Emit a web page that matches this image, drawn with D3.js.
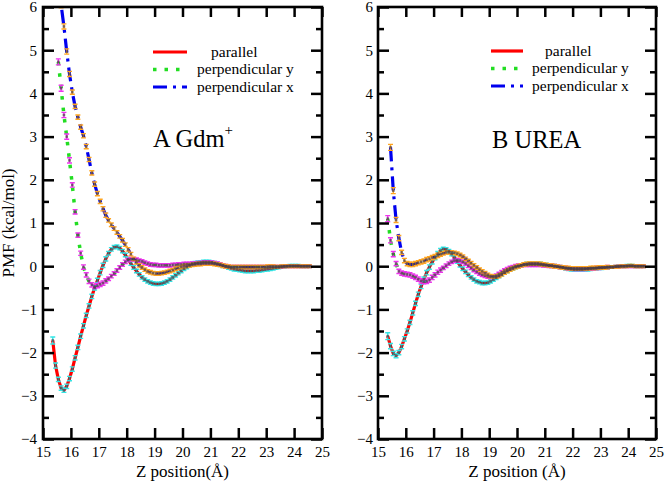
<!DOCTYPE html>
<html><head><meta charset="utf-8">
<script src="https://cdn.jsdelivr.net/npm/d3@7"></script>
<style>body{margin:0;background:#fff}svg{display:block}svg text{font-family:"Liberation Serif","Times New Roman","DejaVu Serif",serif !important;fill:#000}</style>
</head><body>
<script>
// ---------- data ----------
const zGrid = [
15.35,15.45,15.55,15.65,15.75,15.85,15.95,16.05,16.15,16.25,
16.35,16.45,16.55,16.65,16.75,16.85,16.95,17.05,17.15,17.25,
17.35,17.45,17.55,17.65,17.75,17.85,17.95,18.05,18.15,18.25,
18.35,18.45,18.55,18.65,18.75,18.85,18.95,19.05,19.15,19.25,
19.35,19.45,19.55,19.65,19.75,19.85,19.95,20.05,20.15,20.25,
20.35,20.45,20.55,20.65,20.75,20.85,20.95,21.05,21.15,21.25,
21.35,21.45,21.55,21.65,21.75,21.85,21.95,22.05,22.15,22.25,
22.35,22.45,22.55,22.65,22.75,22.85,22.95,23.05,23.15,23.25,
23.35,23.45,23.55,23.65,23.75,23.85,23.95,24.05,24.15,24.25,
24.35,24.45,24.55];
const seriesNames = ["parallel","perpendicular y","perpendicular x"];
const xTicks = [15,16,17,18,19,20,21,22,23,24,25];
const yTicks = [-4,-3,-2,-1,0,1,2,3,4,5,6];
const yMinorTicks = [-3.5,-2.5,-1.5,-0.5,0.5,1.5,2.5,3.5,4.5,5.5];

// Panel A: Gdm+
const gdmParallel = [
-1.72,-2.30,-2.62,-2.82,-2.87,-2.78,-2.60,-2.38,-2.12,-1.88,
-1.62,-1.38,-1.14,-0.92,-0.70,-0.50,-0.33,-0.15,0.02,0.17,
0.30,0.39,0.44,0.45,0.42,0.35,0.26,0.16,0.06,-0.03,
-0.11,-0.19,-0.26,-0.31,-0.35,-0.38,-0.40,-0.41,-0.41,-0.40,
-0.38,-0.35,-0.31,-0.26,-0.21,-0.16,-0.11,-0.06,-0.02,0.02,
0.05,0.07,0.08,0.09,0.10,0.10,0.10,0.09,0.07,0.05,
0.03,0.01,-0.01,-0.03,-0.05,-0.07,-0.08,-0.09,-0.10,-0.11,
-0.11,-0.11,-0.11,-0.10,-0.10,-0.09,-0.08,-0.07,-0.06,-0.05,
-0.04,-0.03,-0.02,-0.01,0.00,0.01,0.01,0.01,0.01,0.00,
0.00,0.00,0.00];
const gdmPerpY = [
null,null,4.73,4.12,3.50,3.00,2.45,1.88,1.26,0.72,
0.30,-0.02,-0.20,-0.35,-0.43,-0.47,-0.45,-0.42,-0.39,-0.34,
-0.29,-0.23,-0.17,-0.10,-0.03,0.04,0.10,0.14,0.16,0.16,
0.15,0.13,0.11,0.08,0.06,0.04,0.03,0.03,0.02,0.02,
0.02,0.02,0.02,0.03,0.03,0.04,0.04,0.05,0.05,0.05,
0.06,0.06,0.07,0.07,0.08,0.08,0.08,0.08,0.07,0.06,
0.04,0.02,0.00,-0.01,-0.02,-0.02,-0.02,-0.02,-0.02,-0.02,
-0.02,-0.02,-0.02,-0.02,-0.02,-0.02,-0.02,-0.02,-0.01,-0.01,
-0.01,-0.01,-0.01,0.00,0.00,0.00,0.00,0.00,0.00,0.00,
0.00,0.00,0.00];
const gdmPerpX = [
null,null,6.60,6.05,5.55,4.97,4.45,4.03,3.70,3.45,
3.22,3.02,2.77,2.47,2.16,1.90,1.68,1.50,1.33,1.18,
1.06,0.96,0.87,0.78,0.69,0.60,0.50,0.39,0.28,0.17,
0.09,0.02,-0.03,-0.08,-0.12,-0.14,-0.16,-0.17,-0.17,-0.16,
-0.15,-0.13,-0.11,-0.09,-0.06,-0.04,-0.02,0.00,0.01,0.02,
0.03,0.04,0.05,0.05,0.06,0.06,0.06,0.06,0.05,0.04,
0.03,0.01,0.00,-0.01,-0.02,-0.02,-0.02,-0.02,-0.02,-0.02,
-0.02,-0.02,-0.02,-0.02,-0.02,-0.02,-0.02,-0.01,-0.01,-0.01,
-0.01,-0.01,0.00,0.00,0.00,0.00,0.00,0.00,0.00,0.00,
0.00,0.00,0.00];
const gdmErrParallel = [
0.08,0.06,0.05,0.05,0.05,0.05,0.05,0.05,0.05,0.05,
0.05,0.05,0.05,0.05,0.05,0.05,0.05,0.05,0.05,0.05,
0.04,0.04,0.04,0.04,0.04,0.04,0.04,0.04,0.04,0.04,
0.04,0.04,0.04,0.04,0.04,0.04,0.04,0.04,0.04,0.04,
0.04,0.04,0.04,0.04,0.04,0.04,0.04,0.04,0.04,0.04,
0.04,0.04,0.04,0.04,0.04,0.04,0.04,0.04,0.04,0.04,
0.04,0.04,0.04,0.04,0.04,0.04,0.04,0.04,0.04,0.04,
0.04,0.04,0.04,0.04,0.04,0.04,0.04,0.04,0.04,0.04,
0.03,0.03,0.03,0.03,0.03,0.03,0.03,0.03,0.03,0.03,
0.03,0.03,0.03];
const gdmErrPerpY = [
null,null,0.07,0.07,0.06,0.06,0.06,0.05,0.05,0.05,
0.05,0.05,0.05,0.05,0.05,0.05,0.05,0.05,0.05,0.05,
0.04,0.04,0.04,0.04,0.04,0.04,0.04,0.04,0.04,0.04,
0.04,0.04,0.04,0.04,0.04,0.04,0.04,0.04,0.04,0.04,
0.04,0.04,0.04,0.04,0.04,0.04,0.04,0.04,0.04,0.04,
0.04,0.04,0.04,0.04,0.04,0.04,0.04,0.04,0.04,0.04,
0.04,0.04,0.04,0.04,0.04,0.04,0.04,0.04,0.04,0.04,
0.04,0.04,0.04,0.04,0.04,0.04,0.04,0.04,0.04,0.04,
0.03,0.03,0.03,0.03,0.03,0.03,0.03,0.03,0.03,0.03,
0.03,0.03,0.03];
const gdmErrPerpX = [
null,null,0.07,0.07,0.06,0.06,0.06,0.05,0.05,0.05,
0.05,0.05,0.05,0.05,0.05,0.05,0.05,0.05,0.05,0.05,
0.04,0.04,0.04,0.04,0.04,0.04,0.04,0.04,0.04,0.04,
0.04,0.04,0.04,0.04,0.04,0.04,0.04,0.04,0.04,0.04,
0.04,0.04,0.04,0.04,0.04,0.04,0.04,0.04,0.04,0.04,
0.04,0.04,0.04,0.04,0.04,0.04,0.04,0.04,0.04,0.04,
0.04,0.04,0.04,0.04,0.04,0.04,0.04,0.04,0.04,0.04,
0.04,0.04,0.04,0.04,0.04,0.04,0.04,0.04,0.04,0.04,
0.03,0.03,0.03,0.03,0.03,0.03,0.03,0.03,0.03,0.03,
0.03,0.03,0.03];

// Panel B: UREA
const ureaParallel = [
-1.62,-1.85,-2.02,-2.07,-2.00,-1.86,-1.68,-1.50,-1.30,-1.08,
-0.86,-0.65,-0.47,-0.30,-0.15,-0.02,0.10,0.20,0.29,0.36,
0.40,0.39,0.35,0.28,0.20,0.11,0.02,-0.06,-0.13,-0.20,
-0.26,-0.31,-0.35,-0.37,-0.39,-0.39,-0.38,-0.35,-0.31,-0.27,
-0.23,-0.19,-0.15,-0.11,-0.08,-0.05,-0.02,0.00,0.02,0.04,
0.05,0.06,0.06,0.06,0.06,0.05,0.04,0.03,0.02,0.01,
0.00,-0.01,-0.02,-0.03,-0.05,-0.06,-0.07,-0.08,-0.08,-0.08,
-0.08,-0.07,-0.07,-0.06,-0.05,-0.05,-0.04,-0.04,-0.03,-0.03,
-0.02,-0.02,-0.01,0.00,0.00,0.00,0.01,0.01,0.01,0.00,
0.00,0.00,0.00];
const ureaPerpY = [
1.10,0.60,0.28,0.06,-0.12,-0.16,-0.18,-0.19,-0.20,-0.23,
-0.26,-0.30,-0.34,-0.36,-0.35,-0.32,-0.26,-0.20,-0.14,-0.09,
-0.04,0.01,0.06,0.10,0.13,0.14,0.13,0.10,0.06,0.01,
-0.04,-0.09,-0.13,-0.17,-0.20,-0.22,-0.24,-0.25,-0.24,-0.22,
-0.18,-0.14,-0.10,-0.07,-0.04,-0.02,0.00,0.01,0.02,0.03,
0.03,0.03,0.03,0.03,0.03,0.03,0.02,0.02,0.01,0.01,
0.00,-0.01,-0.02,-0.03,-0.04,-0.05,-0.05,-0.06,-0.06,-0.06,
-0.06,-0.06,-0.05,-0.05,-0.05,-0.04,-0.04,-0.03,-0.03,-0.02,
-0.02,-0.02,-0.01,-0.01,0.00,0.00,0.00,0.00,0.00,0.00,
0.00,0.00,0.00];
const ureaPerpX = [
null,2.75,1.75,1.07,0.65,0.32,0.13,0.06,0.04,0.04,
0.06,0.08,0.10,0.12,0.15,0.17,0.20,0.22,0.25,0.28,
0.30,0.32,0.32,0.32,0.31,0.29,0.26,0.22,0.17,0.12,
0.07,0.02,-0.03,-0.08,-0.12,-0.16,-0.20,-0.23,-0.24,-0.24,
-0.22,-0.19,-0.15,-0.11,-0.08,-0.05,-0.02,0.00,0.02,0.04,
0.05,0.06,0.06,0.06,0.06,0.05,0.04,0.03,0.02,0.01,
0.00,-0.01,-0.02,-0.03,-0.04,-0.04,-0.05,-0.05,-0.05,-0.05,
-0.05,-0.05,-0.05,-0.04,-0.04,-0.04,-0.03,-0.03,-0.03,-0.02,
-0.02,-0.02,-0.01,-0.01,0.00,0.00,0.00,0.01,0.01,0.00,
0.00,0.00,0.00];
const ureaErrParallel = gdmErrParallel.slice();
const ureaErrPerpY = [
0.07,0.06,0.06,0.05,0.05,0.05,0.05,0.05,0.05,0.05,
0.05,0.05,0.05,0.05,0.05,0.05,0.05,0.05,0.05,0.05,
0.04,0.04,0.04,0.04,0.04,0.04,0.04,0.04,0.04,0.04,
0.04,0.04,0.04,0.04,0.04,0.04,0.04,0.04,0.04,0.04,
0.04,0.04,0.04,0.04,0.04,0.04,0.04,0.04,0.04,0.04,
0.04,0.04,0.04,0.04,0.04,0.04,0.04,0.04,0.04,0.04,
0.04,0.04,0.04,0.04,0.04,0.04,0.04,0.04,0.04,0.04,
0.04,0.04,0.04,0.04,0.04,0.04,0.04,0.04,0.04,0.04,
0.03,0.03,0.03,0.03,0.03,0.03,0.03,0.03,0.03,0.03,
0.03,0.03,0.03];
const ureaErrPerpX = [
null,0.07,0.07,0.06,0.06,0.05,0.05,0.05,0.05,0.05,
0.05,0.05,0.05,0.05,0.05,0.05,0.05,0.05,0.05,0.05,
0.04,0.04,0.04,0.04,0.04,0.04,0.04,0.04,0.04,0.04,
0.04,0.04,0.04,0.04,0.04,0.04,0.04,0.04,0.04,0.04,
0.04,0.04,0.04,0.04,0.04,0.04,0.04,0.04,0.04,0.04,
0.04,0.04,0.04,0.04,0.04,0.04,0.04,0.04,0.04,0.04,
0.04,0.04,0.04,0.04,0.04,0.04,0.04,0.04,0.04,0.04,
0.04,0.04,0.04,0.04,0.04,0.04,0.04,0.04,0.04,0.04,
0.03,0.03,0.03,0.03,0.03,0.03,0.03,0.03,0.03,0.03,
0.03,0.03,0.03];

// ---------- styles ----------
const FONT = '"Liberation Serif","Times New Roman","DejaVu Serif",serif';
const lineStyles = [
  {color:"#ff0000", width:3.2, dash:null, err:"#33e6e6"},
  {color:"#22dd22", width:3.5, dash:"3.5,8", err:"#ee33ee"},
  {color:"#0000ee", width:3.2, dash:"14,6,3,6", err:"#ffa520"}
];

const svg = d3.select("body").append("svg").attr("width",666).attr("height",484);

function drawPanel(cfg){
  const g = svg.append("g");
  const x = d3.scaleLinear().domain([15,25]).range([cfg.x0,cfg.x1]);
  const y = d3.scaleLinear().domain([-4,6]).range([439,7]);
  const id = "clip"+cfg.key;
  svg.append("defs").append("clipPath").attr("id",id).append("rect")
    .attr("x",cfg.x0).attr("y",7).attr("width",cfg.x1-cfg.x0).attr("height",432);
  const dataG = g.append("g").attr("clip-path",`url(#${id})`);

  const series = cfg.series.map((vals,i)=>zGrid.map((z,j)=>({z, v:vals[j], e:cfg.errs[i][j]})).filter(d=>d.v!=null));
  const line = d3.line().x(d=>x(d.z)).y(d=>y(d.v));
  series.forEach((s,i)=>{
    const st = lineStyles[i];
    dataG.append("path").attr("d",line(s)).attr("fill","none")
      .attr("stroke",st.color).attr("stroke-width",st.width)
      .attr("stroke-dasharray",st.dash);
  });
  series.forEach((s,i)=>{
    const st = lineStyles[i];
    const eg = dataG.append("g").attr("stroke",st.err).attr("stroke-width",1.4).attr("fill","none");
    eg.selectAll("path").data(s).join("path")
      .attr("d",d=>{
        const cx=x(d.z), y1=y(d.v+d.e), y2=y(d.v-d.e);
        return `M${cx},${y1}V${y2}M${cx-2.5},${y1}H${cx+2.5}M${cx-2.5},${y2}H${cx+2.5}`;
      });
  });
  series.forEach((s,i)=>{
    dataG.append("g").selectAll("rect").data(s).join("rect")
      .attr("x",d=>x(d.z)-1.3).attr("y",d=>y(d.v)-1.3)
      .attr("width",2.6).attr("height",2.6)
      .attr("fill","#4a3c44").attr("opacity",0.7);
  });

  const axG = g.append("g");
  const ax = [
    axG.append("g").attr("transform",`translate(${cfg.x0},0)`).call(d3.axisLeft(y).tickValues(yTicks).tickSize(-11).tickPadding(cfg.yPad).tickFormat(d3.format("d"))),
    axG.append("g").attr("transform",`translate(${cfg.x0},0)`).call(d3.axisLeft(y).tickValues(yMinorTicks).tickSize(-6).tickFormat("")),
    axG.append("g").attr("transform",`translate(${cfg.x1},0)`).call(d3.axisRight(y).tickValues(yTicks).tickSize(-11).tickFormat("")),
    axG.append("g").attr("transform",`translate(${cfg.x1},0)`).call(d3.axisRight(y).tickValues(yMinorTicks).tickSize(-6).tickFormat("")),
    axG.append("g").attr("transform",`translate(0,439)`).call(d3.axisBottom(x).tickValues(xTicks).tickSize(-11).tickPadding(7).tickFormat(d3.format("d"))),
    axG.append("g").attr("transform",`translate(0,7)`).call(d3.axisTop(x).tickValues(xTicks).tickSize(-10).tickFormat(""))
  ];
  ax.forEach(a=>{
    a.attr("font-family",null).attr("font-size",null);
    a.select(".domain").remove();
    a.selectAll("line").attr("stroke","#000").attr("stroke-width",2.5);
    a.selectAll("text").style("font-family",FONT).style("font-size","15px").attr("fill","#000");
  });
  g.append("rect").attr("x",cfg.x0).attr("y",7).attr("width",cfg.x1-cfg.x0).attr("height",432)
    .attr("fill","none").attr("stroke","#000").attr("stroke-width",2.6);

  g.append("text").attr("x",(cfg.x0+cfg.x1)/2).attr("y",477).attr("text-anchor","middle")
    .style("font-family",FONT).style("font-size","17px").text(cfg.xTitle);

  const t = g.append("text").attr("x",cfg.titleX).attr("y",cfg.titleY)
    .style("font-family",FONT).style("font-size","24.5px").text(cfg.title);
  if(cfg.sup) t.append("tspan").attr("dy",-12).style("font-size","15px").text(cfg.sup);

  cfg.legRows.forEach((ry,i)=>{
    const st = lineStyles[i];
    g.append("line").attr("x1",cfg.legX0).attr("x2",cfg.legX1).attr("y1",ry).attr("y2",ry)
      .attr("stroke",st.color).attr("stroke-width",st.width).attr("stroke-dasharray",st.dash);
    g.append("text").attr("x",i===0?cfg.legTxt0:cfg.legTxt).attr("y",ry+4.5)
      .style("font-family",FONT).style("font-size","15.5px").text(seriesNames[i]);
  });
}

drawPanel({key:"A", x0:43, x1:322, yPad:6, xTitle:"Z position(Å)",
  title:"A Gdm", sup:"+", titleX:153, titleY:147,
  series:[gdmParallel,gdmPerpY,gdmPerpX], errs:[gdmErrParallel,gdmErrPerpY,gdmErrPerpX],
  legRows:[52,69.5,87], legX0:153, legX1:187, legTxt0:211, legTxt:197});
drawPanel({key:"B", x0:378, x1:656, yPad:5, xTitle:"Z position (Å)",
  title:"B UREA", sup:null, titleX:492, titleY:148,
  series:[ureaParallel,ureaPerpY,ureaPerpX], errs:[ureaErrParallel,ureaErrPerpY,ureaErrPerpX],
  legRows:[51,68.5,86], legX0:491, legX1:523, legTxt0:545, legTxt:532});

svg.append("text").attr("transform","translate(14,223) rotate(-90)").attr("text-anchor","middle")
  .style("font-family",FONT).style("font-size","17px").text("PMF (kcal/mol)");
</script>
</body></html>
